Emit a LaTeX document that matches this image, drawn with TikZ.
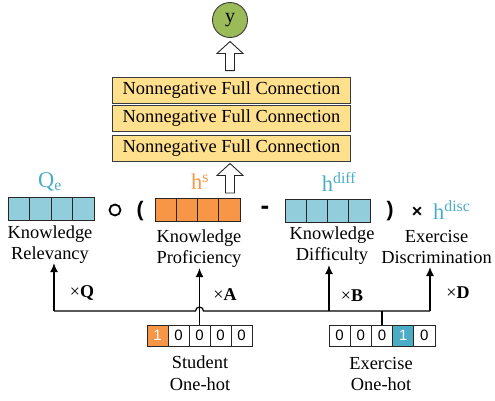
\documentclass[tikz,border=0pt]{standalone}
\usepackage{fontspec}
\setmainfont{Liberation Serif}
\newfontfamily\sansf{Liberation Sans}
\usetikzlibrary{arrows.meta,calc}
\definecolor{cblue}{HTML}{92CDDC}
\definecolor{cteal}{HTML}{4BACC6}
\definecolor{corange}{HTML}{F79646}
\definecolor{cgreen}{HTML}{9BBB59}
\definecolor{cyellow}{HTML}{FFE08C}
\definecolor{cedge}{HTML}{3A3A3A}
% #1 bottom point, #2 tip point (same x)
\newcommand\hollowup[2]{%
  \draw[harrow] ($(#1)+(-4.5,0)$) -- ($(#2)+(-4.5,12)$) -- ($(#2)+(-13,12)$) -- (#2)
    -- ($(#2)+(13,12)$) -- ($(#2)+(4.5,12)$) -- ($(#1)+(4.5,0)$) -- cycle;}
\begin{document}
\begin{tikzpicture}[x=1bp,y=-1bp,
  lbl/.style={font=\fontsize{18.4bp}{21.5bp}\selectfont, align=center, inner sep=0pt},
  fcbox/.style={draw=cedge, line width=0.9bp, fill=cyellow, minimum width=238bp, minimum height=26bp, inner sep=0pt, font=\fontsize{18.4bp}{21.5bp}\selectfont},
  cell/.style={draw=black!85, line width=0.8bp, minimum width=21.3bp, minimum height=23bp, inner sep=0pt},
  hot/.style={draw=black!85, line width=0.8bp, minimum width=21.2bp, minimum height=21bp, inner sep=0pt, font=\sansf\fontsize{15bp}{15bp}\selectfont},
  sym/.style={font=\sansf\bfseries\fontsize{21bp}{21bp}\selectfont, inner sep=0pt},
  vlabel/.style={font=\fontsize{22.5bp}{22.5bp}\selectfont, inner sep=0pt},
  mult/.style={font=\fontsize{18bp}{18bp}\selectfont, inner sep=0pt},
  conn/.style={line width=1.2bp},
  arr/.style={conn, -{Latex[length=9bp,width=8bp]}},
  harrow/.style={draw=black!85, line width=0.9bp, fill=white}]
\useasboundingbox (0,0) rectangle (495,400);

% output
\node[circle, draw=cedge, line width=0.9bp, fill=cgreen, minimum size=35bp, inner sep=0pt,
      font=\fontsize{20bp}{20bp}\selectfont] (y) at (230,20) {y};

% full connection layers
\node[fcbox] (fc1) at (231.5,90) {Nonnegative Full Connection};
\node[fcbox] (fc2) at (231.5,118.5) {Nonnegative Full Connection};
\node[fcbox] (fc3) at (231.5,148) {Nonnegative Full Connection};

% vectors
\foreach \i in {1,...,4} \node[cell, fill=cblue] (qe\i) at ({8+21.5*(\i-0.5)},209) {};
\foreach \i in {1,...,4} \node[cell, fill=corange] (hs\i) at ({155+21.25*(\i-0.5)},210) {};
\foreach \i in {1,...,4} \node[cell, fill=cblue] (hd\i) at ({285+21.25*(\i-0.5)},211) {};

% vector labels
\node[vlabel, text=cteal] (qel) at (50,182) {Q\textsubscript{e}};
\node[vlabel, text=corange] (hsl) at (200,182) {h\textsuperscript{s}};
\node[vlabel, text=cteal] (hdl) at (339,182) {h\textsuperscript{diff}};
\node[vlabel, text=cteal, anchor=base west] (hdisc) at (433,219) {h\textsuperscript{disc}};

% operators
\node[circle, draw, line width=1.8bp, minimum size=11bp, inner sep=0pt] (op1) at (115,210) {};
\node[sym] (lp) at (140,211) {(};
\node[sym, font=\sansf\bfseries\fontsize{26bp}{26bp}\selectfont] (minus) at (265,210) {-};
\node[sym] (rp) at (390,211) {)};
\node[sym] (times) at (417,212) {\fontsize{18bp}{18bp}\selectfont ×};

% names
\node[lbl, anchor=north] (relv) at (50,225.5) {Knowledge\\Relevancy};
\node[lbl, anchor=north] (prof) at (199,229.5) {Knowledge\\Proficiency};
\node[lbl, anchor=north] (diff) at (332,226.5) {Knowledge\\Difficulty};
\node[lbl, anchor=north] (disc) at (436.5,229.8) {Exercise\\Discrimination};

% hollow arrows
\coordinate (a1b) at ($(fc1.north)+(-1.5,-6)$);
\coordinate (a1t) at ($(y.south)+(0,3.5)$);
\hollowup{a1b}{a1t}
\coordinate (a2b) at (230,193);
\coordinate (a2t) at ($(fc3.south)+(-1.5,2)$);
\hollowup{a2b}{a2t}

% one-hot vectors
\node[hot, fill=corange, text=white] (sb1) at ({147+21*0.5},335.5) {1};
\foreach \i in {2,...,5} \node[hot] (sb\i) at ({147+21*(\i-0.5)},335.5) {0};
\foreach \i in {1,2,3,5} \node[hot] (eb\i) at ({329+21.2*(\i-0.5)},335.5) {0};
\node[hot, fill=cteal, text=white] (eb4) at ({329+21.2*3.5},335.5) {1};

\node[lbl, anchor=north] (stu) at (200,356) {Student\\One-hot};
\node[lbl, anchor=north] (exe) at (381,357) {Exercise\\One-hot};

% connectors
\coordinate (hl) at (54,311);
\coordinate (hr) at (430,311);
\coordinate (hb) at (329,311);
\coordinate (hj) at ($(sb3.north |- hl)+(-4,0)$);
\draw[conn] (hl) -- (hj) arc (180:360:4) -- (hr);
\draw[arr] (hl) -- ($(hl |- relv.south)+(0,-1)$);
\draw[arr] (sb3.north) -- (sb3.north |- prof.south);
\draw[arr] (hb) -- (hb |- diff.south);
\draw[arr] (hr) -- ($(hr |- disc.south)+(0,3)$);
\draw[conn] (eb3.north) -- (eb3.north |- hl);

% weight labels
\node[mult] (mq) at (82,293) {×\textbf{Q}};
\node[mult] (ma) at (225,295) {×\textbf{A}};
\node[mult] (mb) at (352,296) {×\textbf{B}};
\node[mult] (md) at (458,293) {×\textbf{D}};
\end{tikzpicture}
\end{document}
